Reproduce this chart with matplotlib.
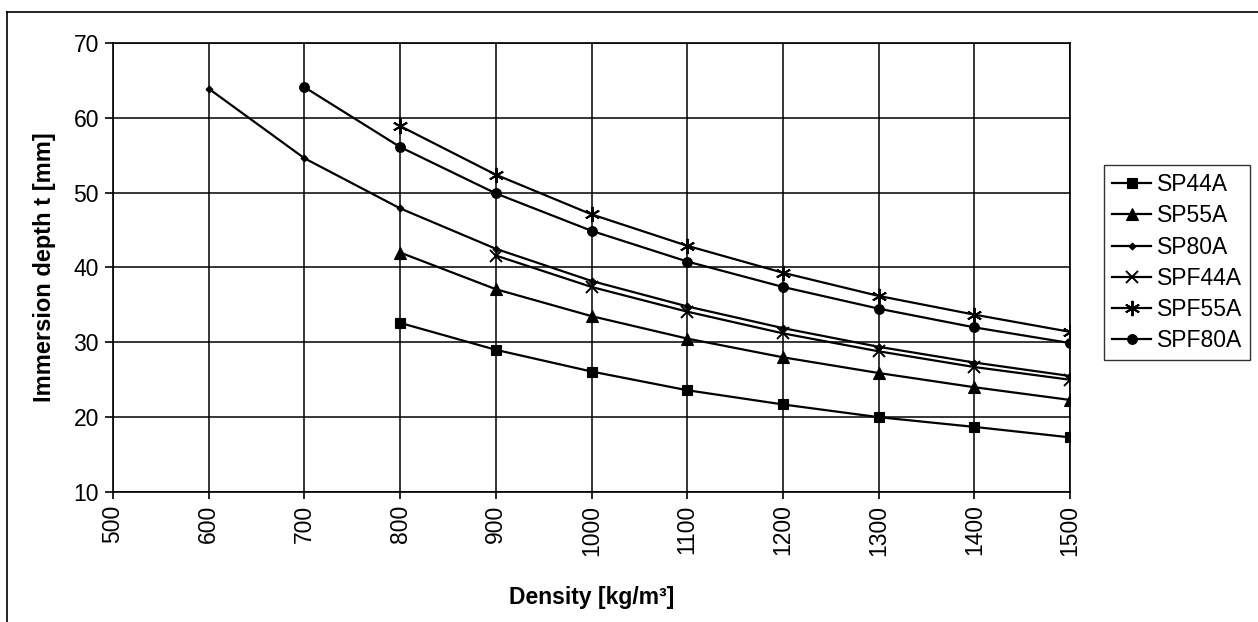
import matplotlib
matplotlib.use("Agg")
import matplotlib.pyplot as plt
from matplotlib.lines import Line2D

plt.rcParams["font.family"] = ["Liberation Sans", "DejaVu Sans"]

# density [kg/m3]
rho_sp44a = [800, 900, 1000, 1100, 1200, 1300, 1400, 1500]
t_sp44a = [32.6, 29.0, 26.1, 23.6, 21.7, 20.0, 18.7, 17.3]

rho_sp55a = [800, 900, 1000, 1100, 1200, 1300, 1400, 1500]
t_sp55a = [42.0, 37.1, 33.5, 30.5, 28.0, 25.9, 24.0, 22.3]

rho_sp80a = [600, 700, 800, 900, 1000, 1100, 1200, 1300, 1400, 1500]
t_sp80a = [63.9, 54.6, 47.9, 42.5, 38.2, 34.8, 31.9, 29.4, 27.3, 25.5]

rho_spf44a = [900, 1000, 1100, 1200, 1300, 1400, 1500]
t_spf44a = [41.6, 37.4, 34.1, 31.2, 28.8, 26.7, 25.0]

rho_spf55a = [800, 900, 1000, 1100, 1200, 1300, 1400, 1500]
t_spf55a = [58.9, 52.4, 47.1, 42.9, 39.3, 36.2, 33.7, 31.4]

rho_spf80a = [700, 800, 900, 1000, 1100, 1200, 1300, 1400, 1500]
t_spf80a = [64.1, 56.1, 49.9, 44.9, 40.8, 37.4, 34.5, 32.0, 29.9]

x_ticks = [500, 600, 700, 800, 900, 1000, 1100, 1200, 1300, 1400, 1500]
y_ticks = [10, 20, 30, 40, 50, 60, 70]

series = [
    ("SP44A", rho_sp44a, t_sp44a, "s", 7.5),
    ("SP55A", rho_sp55a, t_sp55a, "^", 8.5),
    ("SP80A", rho_sp80a, t_sp80a, "D", 3.5),
    ("SPF44A", rho_spf44a, t_spf44a, "x", 8),
    ("SPF55A", rho_spf55a, t_spf55a, (6, 2, 0), 11),
    ("SPF80A", rho_spf80a, t_spf80a, "o", 7),
]

fig = plt.figure(figsize=(12.58, 6.22), dpi=100)
ax = fig.add_axes([0.0898, 0.209, 0.7608, 0.7219])

for name, xs, ys, m, ms in series:
    ax.plot(xs, ys, color="black", linewidth=1.6, marker=m, markersize=ms,
            markeredgewidth=1.4 if m in ("x", (6, 2, 0)) else 0.8,
            markerfacecolor="black", markeredgecolor="black", label=name)

ax.set_xlim(500, 1500)
ax.set_ylim(10, 70)
ax.set_xticks(x_ticks)
ax.set_yticks(y_ticks)
ax.tick_params(axis="x", labelrotation=90, labelsize=16.5, direction="out",
               length=5, width=1.2, colors="black", pad=4)
ax.tick_params(axis="y", labelsize=16.5, direction="out", length=6, width=1.2, pad=4)
ax.grid(True, color="black", linewidth=1.1)
ax.set_axisbelow(True)
for s in ax.spines.values():
    s.set_linewidth(1.2)
    s.set_color("black")

ax.set_xlabel("Density [kg/m³]", fontsize=16.5, fontweight="bold", labelpad=22)
ax.set_ylabel("Immersion depth t [mm]", fontsize=17, fontweight="bold", labelpad=13)

leg = ax.legend(loc="upper left", bbox_to_anchor=(1104 / 1258, 1 - 165 / 622),
                bbox_transform=fig.transFigure, frameon=True,
                fancybox=False, edgecolor="black", fontsize=16.5,
                handlelength=1.7, handletextpad=0.25, labelspacing=0.36,
                borderpad=0.35, borderaxespad=0)
leg.get_frame().set_linewidth(1.0)

# outer chart border (left and top edges visible)
fig.add_artist(Line2D([7 / 1258, 7 / 1258], [0, 1 - 12 / 622],
                      transform=fig.transFigure, color="black", linewidth=1.2))
fig.add_artist(Line2D([7 / 1258, 1], [1 - 12 / 622, 1 - 12 / 622],
                      transform=fig.transFigure, color="black", linewidth=1.2))

fig.savefig("out.png", dpi=100)
